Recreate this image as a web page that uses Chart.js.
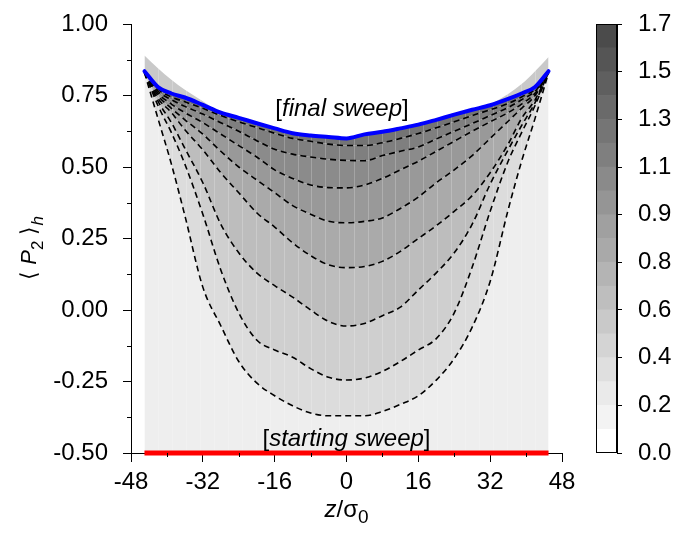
<!DOCTYPE html>
<html>
<head>
<meta charset="utf-8">
<script src="https://cdn.jsdelivr.net/npm/chart.js@4.4.1/dist/chart.umd.min.js"></script>
<style>
  body { margin: 0; background: #fff; }
  #wrap { position: relative; width: 680px; height: 545px; }
  #wrap canvas { position: absolute; left: 0; top: 0; }
</style>
</head>
<body>
<div id="wrap">
  <canvas id="myChart" width="680" height="545"></canvas>
  <canvas id="colorBar" width="680" height="545"></canvas>
</div>
<script>
// z positions (in units of sigma_0) where the profiles were read
const zGrid = [-45, -42, -39, -36, -32, -28, -24, -20, -16, -12, -8, -4, 0, 4, 8, 12, 16, 20, 24, 28, 32, 36, 39, 42, 45];

// upper edge of the grey map (sticks out above the final sweep near the walls)
const envelope   = [0.89, 0.845, 0.805, 0.77, 0.73, 0.69, 0.672, 0.653, 0.635, 0.618, 0.61, 0.605, 0.60, 0.614, 0.623, 0.635, 0.648, 0.665, 0.683, 0.70, 0.72, 0.755, 0.79, 0.835, 0.885];
const finalSweep = [0.835, 0.78, 0.757, 0.743, 0.717, 0.69, 0.672, 0.653, 0.635, 0.618, 0.61, 0.605, 0.60, 0.614, 0.623, 0.635, 0.648, 0.665, 0.683, 0.70, 0.716, 0.738, 0.757, 0.78, 0.835];

// intermediate sweeps (dashed), top to bottom
const sweep1 = [0.83, 0.772, 0.745, 0.728, 0.705, 0.68, 0.658, 0.638, 0.618, 0.60, 0.59, 0.58, 0.575, 0.575, 0.585, 0.60, 0.617, 0.637, 0.658, 0.68, 0.70, 0.722, 0.745, 0.772, 0.83];
const sweep2 = [0.83, 0.765, 0.735, 0.712, 0.685, 0.655, 0.625, 0.592, 0.562, 0.545, 0.535, 0.527, 0.523, 0.522, 0.54, 0.555, 0.57, 0.598, 0.625, 0.652, 0.68, 0.708, 0.735, 0.765, 0.83];
const sweep3 = [0.83, 0.758, 0.72, 0.69, 0.655, 0.615, 0.575, 0.535, 0.49, 0.46, 0.437, 0.428, 0.427, 0.437, 0.46, 0.49, 0.52, 0.555, 0.59, 0.625, 0.658, 0.69, 0.72, 0.758, 0.83];
const sweep4 = [0.83, 0.75, 0.705, 0.665, 0.615, 0.555, 0.50, 0.455, 0.41, 0.365, 0.335, 0.31, 0.305, 0.31, 0.322, 0.355, 0.395, 0.445, 0.49, 0.54, 0.60, 0.66, 0.705, 0.75, 0.83];
const sweep5 = [0.83, 0.74, 0.69, 0.63, 0.56, 0.48, 0.41, 0.34, 0.29, 0.235, 0.19, 0.158, 0.148, 0.152, 0.17, 0.205, 0.25, 0.295, 0.345, 0.40, 0.48, 0.58, 0.67, 0.735, 0.83];
const sweep6 = [0.83, 0.73, 0.655, 0.565, 0.445, 0.30, 0.20, 0.13, 0.085, 0.045, 0.0, -0.04, -0.056, -0.047, -0.02, 0.01, 0.07, 0.13, 0.20, 0.30, 0.44, 0.56, 0.645, 0.725, 0.83];
const sweep7 = [0.83, 0.715, 0.62, 0.51, 0.335, 0.14, -0.01, -0.105, -0.14, -0.165, -0.205, -0.235, -0.245, -0.238, -0.215, -0.18, -0.14, -0.10, -0.01, 0.15, 0.345, 0.52, 0.62, 0.715, 0.83];
const sweep8 = [0.83, 0.67, 0.51, 0.33, 0.08, -0.055, -0.18, -0.255, -0.30, -0.335, -0.36, -0.37, -0.37, -0.37, -0.355, -0.33, -0.30, -0.245, -0.17, -0.06, 0.10, 0.35, 0.52, 0.67, 0.83];

// starting sweep: flat at -0.5
const startZ  = [-45, 45];
const startP2 = [-0.5, -0.5];

// grey of the band under each curve (blue->1, 1->2, ..., 8->bottom)
const bandGreys = ['#747474', '#7f7f7f', '#8b8b8b', '#999999', '#aaaaaa', '#bdbdbd', '#cfcfcf', '#dcdcdc', '#eeeeee'];
const capGrey = '#c9c9c9';

// columns of the density grid (faint light seams in the map)
const densityColumns = [-41.9, -38.8, -35.7, -32.6, -29.5, -26.4, -23.3, -20.2, -17.1, -14.0, -10.9, -7.8, -4.7, -1.6, 1.6, 4.7, 7.8, 10.9, 14.0, 17.1, 20.2, 23.3, 26.4, 29.5, 32.6, 35.7, 38.8, 41.9];

// axis ticks
const xTicks = [-48, -32, -16, 0, 16, 32, 48];
const xMinor = [-40, -24, -8, 8, 24, 40];
const yTicks = [-0.5, -0.25, 0, 0.25, 0.5, 0.75, 1.0];
const yMinor = [-0.375, -0.125, 0.125, 0.375, 0.625, 0.875];

// colour bar
const colorbarLevels = [0, 0.094, 0.189, 0.283, 0.378, 0.472, 0.567, 0.661, 0.756, 0.85, 0.944, 1.039, 1.133, 1.228, 1.322, 1.417, 1.511, 1.606, 1.7];
const colorbarGreys = ['#ffffff', '#f3f3f3', '#eaeaea', '#dfdfdf', '#d4d4d4', '#c9c9c9', '#bebebe', '#b4b4b4', '#a9a9a9', '#a0a0a0', '#959595', '#8a8a8a', '#7f7f7f', '#757575', '#6a6a6a', '#5f5f5f', '#555555', '#4b4b4b'];
const colorbarTicks = [0, 0.189, 0.378, 0.567, 0.756, 0.944, 1.133, 1.322, 1.511, 1.7];
const colorbarTickLabels = ['0.0', '0.2', '0.4', '0.6', '0.8', '0.9', '1.1', '1.3', '1.5', '1.7'];

const FONT = '"Liberation Sans", Arial, Helvetica, sans-serif';
Chart.defaults.font.family = FONT;
Chart.defaults.font.size = 24;
Chart.defaults.color = '#000';

function pts(ys) {
  return zGrid.map((z, i) => ({x: z, y: ys[i]}));
}

// draw a run of text pieces (italic / subscript) starting at x,y
function richText(ctx, parts, x, y, align) {
  let w = 0;
  parts.forEach(p => {
    ctx.font = (p.italic ? 'italic ' : '') + (p.size || 24) + 'px ' + FONT;
    p.w = ctx.measureText(p.t).width;
    w += p.w;
  });
  let cx = align === 'center' ? x - w / 2 : x;
  parts.forEach(p => {
    ctx.font = (p.italic ? 'italic ' : '') + (p.size || 24) + 'px ' + FONT;
    ctx.fillText(p.t, cx, y + (p.dy || 0));
    cx += p.w;
  });
}

const dashed = [sweep1, sweep2, sweep3, sweep4, sweep5, sweep6, sweep7, sweep8];

var datasets = [];
datasets.push({
  label: 'cap', data: pts(envelope), borderWidth: 0, pointRadius: 0,
  cubicInterpolationMode: 'monotone', fill: '+1', backgroundColor: capGrey
});
datasets.push({
  label: 'final sweep', data: pts(finalSweep), borderColor: '#0000ff', borderWidth: 4,
  borderJoinStyle: 'round', borderCapStyle: 'round', pointRadius: 0,
  cubicInterpolationMode: 'monotone', fill: '+1', backgroundColor: bandGreys[0]
});
dashed.forEach((ys, i) => {
  datasets.push({
    label: 'sweep ' + (i + 1), data: pts(ys), borderColor: '#000', borderWidth: 1.6,
    borderDash: [6, 4], pointRadius: 0, cubicInterpolationMode: 'monotone',
    fill: i === dashed.length - 1 ? 'start' : '+1', backgroundColor: bandGreys[i + 1]
  });
});
datasets.push({
  label: 'starting sweep', data: startZ.map((z, i) => ({x: z, y: startP2[i]})),
  borderColor: '#ff0000', borderWidth: 5, pointRadius: 0, fill: false, clip: 6
});

// faint seams between density columns, drawn over the fills but under the lines
const seams = {
  id: 'seams',
  beforeDatasetsDraw(chart) {
    const {ctx, scales: {x, y}} = chart;
    ctx.save();
    ctx.strokeStyle = 'rgba(255,255,255,0.22)';
    ctx.lineWidth = 1;
    ctx.beginPath();
    densityColumns.forEach(v => {
      const px = Math.round(x.getPixelForValue(v)) + 0.5;
      ctx.moveTo(px, y.getPixelForValue(0.9));
      ctx.lineTo(px, y.getPixelForValue(-0.5));
    });
    ctx.stroke();
    ctx.restore();
  }
};

// minor ticks + titles + in-plot labels
const decorations = {
  id: 'decorations',
  afterDraw(chart) {
    const {ctx, scales: {x, y}} = chart;
    ctx.save();
    ctx.strokeStyle = '#000';
    ctx.lineWidth = 1;
    ctx.beginPath();
    xMinor.forEach(v => {
      const px = Math.round(x.getPixelForValue(v)) + 0.5;
      ctx.moveTo(px, x.top); ctx.lineTo(px, x.top + 4);
    });
    yMinor.forEach(v => {
      const py = Math.round(y.getPixelForValue(v)) + 0.5;
      ctx.moveTo(y.right, py); ctx.lineTo(y.right - 4, py);
    });
    ctx.stroke();

    ctx.fillStyle = '#000';
    ctx.textBaseline = 'alphabetic';
    ctx.textAlign = 'left';
    richText(ctx, [{t: '['}, {t: 'final sweep', italic: true}, {t: ']'}],
      x.getPixelForValue(-1), y.getPixelForValue(0.68), 'center');
    richText(ctx, [{t: '['}, {t: 'starting sweep', italic: true}, {t: ']'}],
      x.getPixelForValue(0), y.getPixelForValue(-0.474), 'center');

    // x title
    richText(ctx, [{t: 'z', italic: true}, {t: '/σ'}, {t: '0', size: 19, dy: 6}],
      (chart.chartArea.left + chart.chartArea.right) / 2, 517, 'center');

    // y title, rotated
    ctx.translate(36, 248);
    ctx.rotate(-Math.PI / 2);
    richText(ctx, [{t: '⟨ ', size: 22}, {t: 'P', italic: true, size: 22}, {t: '2', size: 17, dy: 7},
      {t: ' ⟩', size: 22}, {t: 'h', italic: true, size: 17, dy: 7}], 0, 0, 'center');
    ctx.restore();
  }
};

var myChart = new Chart(document.getElementById('myChart'), {
  type: 'line',
  data: { datasets: datasets },
  options: {
    responsive: false,
    animation: false,
    layout: { padding: { left: 0, right: 118, top: 24, bottom: 0 } },
    plugins: {
      legend: { display: false },
      tooltip: { enabled: false },
      filler: { drawTime: 'beforeDatasetsDraw' }
    },
    scales: {
      x: {
        type: 'linear', min: -48, max: 48,
        afterBuildTicks: s => { s.ticks = xTicks.map(v => ({value: v})); },
        ticks: { padding: 6, maxRotation: 0, callback: v => String(v) },
        grid: { drawOnChartArea: false, drawTicks: true, tickLength: 9, tickColor: '#000' },
        border: { display: true, color: '#000', width: 1 },
        afterFit: s => { s.height = 92; s.paddingLeft = 0; s.paddingRight = 0; }
      },
      y: {
        type: 'linear', min: -0.5, max: 1.0,
        afterBuildTicks: s => { s.ticks = yTicks.map(v => ({value: v})); },
        ticks: { padding: 15, callback: v => v.toFixed(2) },
        grid: { drawOnChartArea: false, drawTicks: true, tickLength: 8, tickColor: '#000' },
        border: { display: true, color: '#000', width: 1 },
        afterFit: s => { s.width = 131; s.paddingTop = 0; s.paddingBottom = 0; }
      }
    }
  },
  plugins: [seams, decorations]
});

// frame around the colour bar
const frame = {
  id: 'frame',
  afterDatasetsDraw(chart) {
    const {ctx, chartArea: a} = chart;
    ctx.save();
    ctx.strokeStyle = '#000';
    ctx.lineWidth = 1;
    ctx.strokeRect(a.left + 0.5, a.top + 0.5, a.right - a.left - 1, a.bottom - a.top - 1);
    ctx.restore();
  }
};

var colorBar = new Chart(document.getElementById('colorBar'), {
  type: 'bar',
  data: {
    labels: [''],
    datasets: colorbarGreys.map((c, i) => ({
      data: [[colorbarLevels[i], colorbarLevels[i + 1]]],
      backgroundColor: c, borderWidth: 0, grouped: false,
      barPercentage: 1, categoryPercentage: 1
    }))
  },
  options: {
    responsive: false,
    animation: false,
    layout: { padding: { left: 596, right: 0, top: 24, bottom: 92 } },
    plugins: { legend: { display: false }, tooltip: { enabled: false } },
    scales: {
      x: { display: false },
      y: {
        position: 'right', min: 0, max: 1.7,
        afterBuildTicks: s => { s.ticks = colorbarTicks.map(v => ({value: v})); },
        ticks: { padding: 16, callback: (v, i) => colorbarTickLabels[i] },
        grid: { drawOnChartArea: false, drawTicks: true, tickLength: 5, tickColor: '#000' },
        border: { display: true, color: '#000', width: 1 },
        afterFit: s => { s.width = 63; s.paddingTop = 0; s.paddingBottom = 0; }
      }
    }
  },
  plugins: [frame]
});
</script>
</body>
</html>
